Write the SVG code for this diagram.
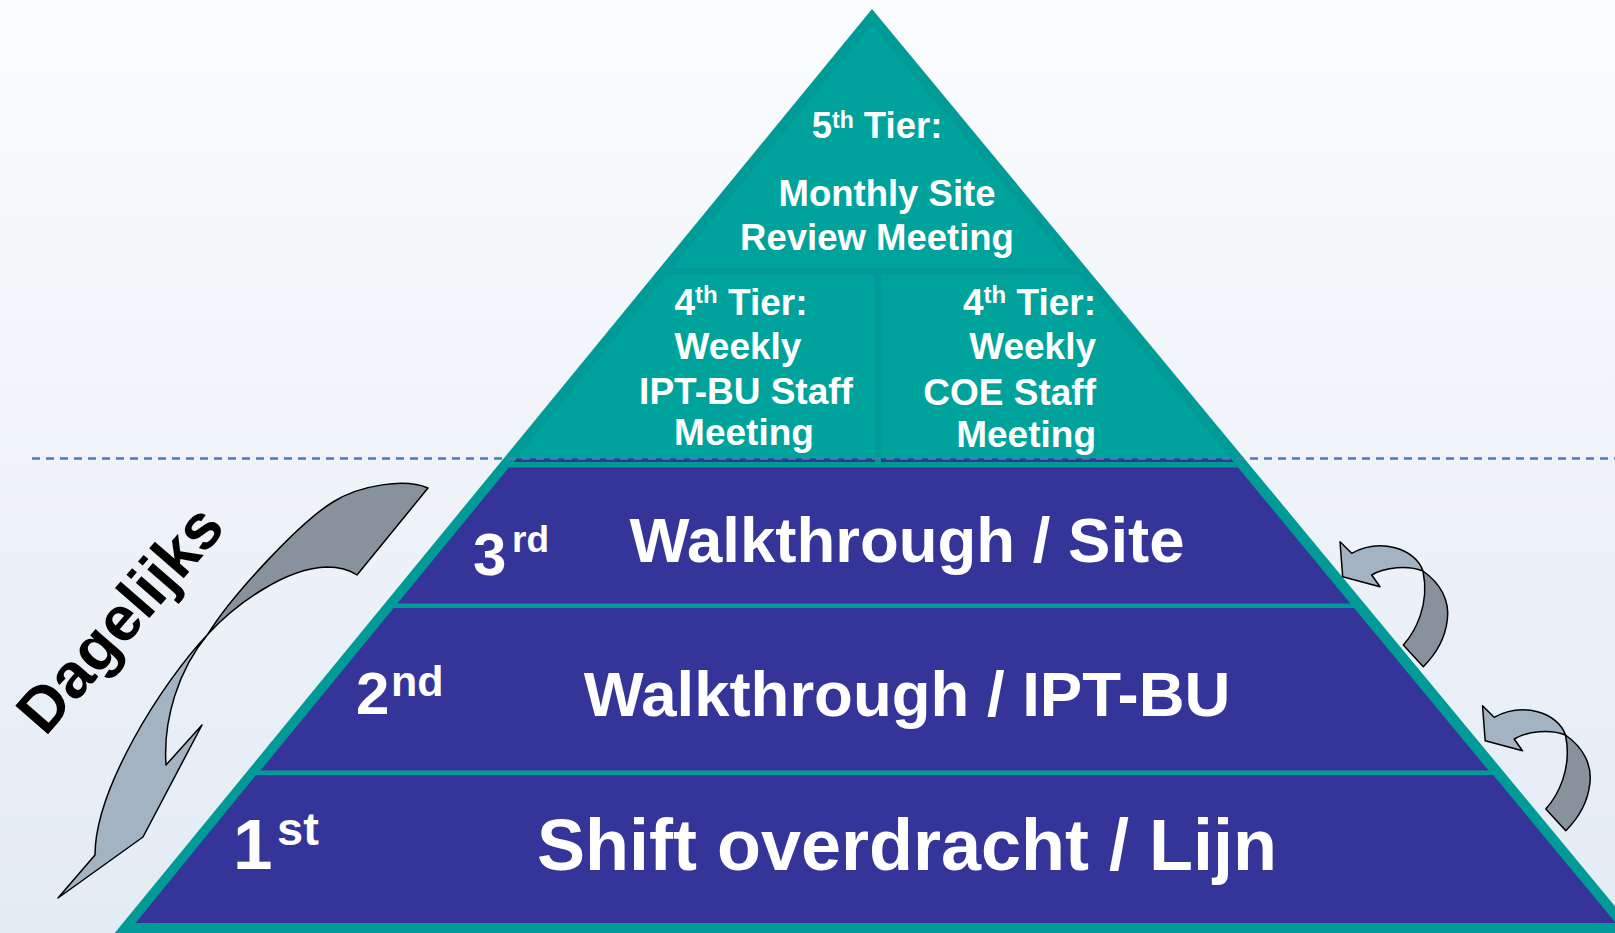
<svg xmlns="http://www.w3.org/2000/svg" xmlns:xlink="http://www.w3.org/1999/xlink" width="1615" height="933" viewBox="0 0 1615 933">
  <defs>
    <linearGradient id="bg" x1="0" y1="0" x2="0" y2="1">
      <stop offset="0" stop-color="#FBFCFD"/>
      <stop offset="1" stop-color="#E3EBF5"/>
    </linearGradient>
    <style>
      .frame { fill: #009A97; }
      .teal { fill: #00A39C; }
      .purple { fill: #353599; }
      .lbl { font-family: "Liberation Sans", Arial, sans-serif; font-weight: bold; fill: #FFFFFF; }
      .dash { stroke: #4C7BB5; stroke-width: 2.4; stroke-dasharray: 8 6; fill: none; }
      .arrDark { fill: #87929C; stroke: #000000; stroke-width: 1.5; stroke-linejoin: round; }
      .arrLight { fill: #A3B3C2; stroke: #000000; stroke-width: 1.5; stroke-linejoin: round; }
    </style>
    <!-- small twisted return arrow -->
    <g id="curlArrow">
      <path class="arrDark" d="M1423,571 C1440,583 1450,600 1447.3,620 C1445,640 1435,655 1423.3,666.7 L1403.3,645 C1415,632 1430,605 1423,571 Z"/>
      <path class="arrLight" d="M1340,541.7 L1342.7,576.7 L1380,586.7 L1371.7,575 C1385,567 1408,565 1423,571 C1415,548 1380,538 1351.7,553.3 Z"/>
    </g>
  </defs>

  <rect x="0" y="0" width="1615" height="933" fill="url(#bg)"/>

  <!-- pyramid frame -->
  <polygon class="frame" points="872,9 1643,940 109,940"/>

  <g id="tier5">
    <polygon class="teal" points="872,25 1073.5,268 672.6,268"/>
    <text class="lbl" x="877" y="138" font-size="36.5" text-anchor="middle">5<tspan font-size="23" dy="-10">th</tspan><tspan dy="10"> Tier:</tspan></text>
    <text class="lbl" x="887" y="206" font-size="36.5" text-anchor="middle">Monthly Site</text>
    <text class="lbl" x="877" y="250" font-size="36.5" text-anchor="middle">Review Meeting</text>
  </g>

  <g id="tier4-left">
    <polygon class="teal" points="666.9,275 875,275 875,458.5 516.8,458.5"/>
    <polygon class="purple" points="516.8,458.5 875,458.5 875,462 513.9,462"/>
    <text class="lbl" x="741" y="315" font-size="37" text-anchor="middle">4<tspan font-size="24" dy="-12">th</tspan><tspan dy="12"> Tier:</tspan></text>
    <text class="lbl" x="738" y="359" font-size="37" text-anchor="middle">Weekly</text>
    <text class="lbl" x="746" y="404" font-size="37" text-anchor="middle">IPT-BU Staff</text>
    <text class="lbl" x="744" y="445" font-size="37" text-anchor="middle">Meeting</text>
  </g>

  <g id="tier4-right">
    <polygon class="teal" points="881,275 1079.2,275 1230.8,458.5 881,458.5"/>
    <polygon class="purple" points="881,458.5 1230.8,458.5 1233.7,462 881,462"/>
    <text class="lbl" x="1096" y="315" font-size="37" text-anchor="end">4<tspan font-size="24" dy="-12">th</tspan><tspan dy="12"> Tier:</tspan></text>
    <text class="lbl" x="1096" y="359" font-size="37" text-anchor="end">Weekly</text>
    <text class="lbl" x="1096" y="405" font-size="37" text-anchor="end">COE Staff</text>
    <text class="lbl" x="1096" y="447" font-size="37" text-anchor="end">Meeting</text>
  </g>

  <g id="tier3">
    <polygon class="purple" points="508.9,467.5 1238,467.5 1350.4,603.5 397.4,603.5"/>
    <text class="lbl" x="473" y="575" font-size="60">3</text>
    <text class="lbl" x="512" y="552" font-size="37">rd</text>
    <text class="lbl" x="907" y="562" font-size="63.5" text-anchor="middle">Walkthrough / Site</text>
  </g>

  <g id="tier2">
    <polygon class="purple" points="393.7,608 1354.1,608 1488.6,770.5 260.5,770.5"/>
    <text class="lbl" x="356" y="714" font-size="60">2</text>
    <text class="lbl" x="391" y="696" font-size="43">nd</text>
    <text class="lbl" x="907" y="716" font-size="63.5" text-anchor="middle">Walkthrough / IPT-BU</text>
  </g>

  <g id="tier1">
    <polygon class="purple" points="256.1,775 1493.2,775 1615.8,923 135.5,923"/>
    <text class="lbl" x="233" y="869" font-size="71">1</text>
    <text class="lbl" x="277" y="845" font-size="47">st</text>
    <text class="lbl" x="907" y="870" font-size="72" text-anchor="middle">Shift overdracht / Lijn</text>
  </g>

  <!-- separator between weekly and daily levels -->
  <line class="dash" x1="32" y1="458.5" x2="1615" y2="458.5"/>

  <g id="daily-label">
    <text x="0" y="0" transform="translate(121,620) rotate(-49)" font-family="Liberation Sans, Arial, sans-serif" font-weight="bold" font-size="63" fill="#000000" text-anchor="middle" dy="20">Dagelijks</text>
  </g>

  <g id="connectors">
    <!-- long twisted downward arrow on the left -->
    <path class="arrDark" d="M428,488 C405,478 360,485 333,502 C300,522 232,595 208,634 C235,605 285,568 327,567 Q345,567 357,575 Z"/>
    <path class="arrLight" d="M208,634 C160,685 95,790 95,855 L58,898 L143,837 L202,725 L166,765 C163,720 178,670 208,634 Z"/>
    <!-- return arrows on the right -->
    <use xlink:href="#curlArrow"/>
    <use xlink:href="#curlArrow" transform="translate(142.5,164)"/>
  </g>
</svg>
